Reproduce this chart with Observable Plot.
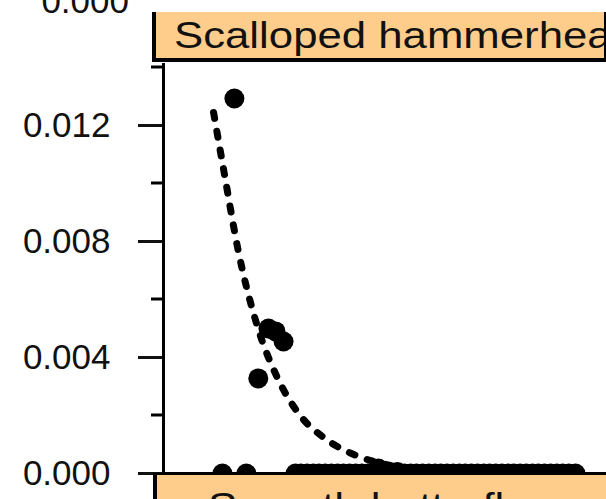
<!DOCTYPE html>
<html>
<head>
<meta charset="utf-8">
<script src="https://cdn.jsdelivr.net/npm/d3@7"></script>
<script src="https://cdn.jsdelivr.net/npm/@observablehq/plot@0.6"></script>
<style>
  html, body { margin: 0; padding: 0; background: #fff; overflow: hidden; }
  svg [aria-label="y-axis"] line,
  svg [aria-label="y-axis tick"] path { stroke-width: 3px; }
</style>
</head>
<body>
<div id="chart"></div>
<script>
// ---- data ----
const panelLabel = "Scalloped hammerhead";
const nextPanelLabel = "Smooth butterfly ray";
const abovePanelTickLabel = "0.000";

const majorTicks = [0, 0.004, 0.008, 0.012];
const yLabels = ["0.000", "0.004", "0.008", "0.012"];
const minorTicks = [0.002, 0.006, 0.010, 0.014];

// observed points (non-zero)
const obsX = [16.0, 21.4, 23.7, 25.3, 27.1, 48.5, 52.8];
const obsY = [0.01293, 0.00328, 0.0050, 0.0049, 0.00455, 0.00017, 0.00005];
// observed points at zero
const zeroX = [13.3, 18.7, 29.8, 31.0, 32.4, 33.8, 35.1, 36.5, 37.9, 39.3, 40.6, 42.0, 43.4,
  44.8, 46.1, 47.5, 48.9, 50.3, 51.6, 53.0, 54.4, 55.8, 57.1, 58.5, 59.9, 61.3, 62.6, 64.0,
  65.4, 66.8, 68.1, 69.5, 70.9, 72.3, 73.6, 75.0, 76.4, 77.8, 79.1, 80.5, 81.9, 83.3, 84.6,
  86.0, 87.4, 88.8, 90.1, 91.5, 93.0];

// fitted curve (dotted)
const fitX = [11.3, 13.8, 16.9, 21.0, 26.0, 30.5, 36.8, 44.0, 51.2, 60.3];
const fitY = [0.01245, 0.01028, 0.00766, 0.00517, 0.00321, 0.00207, 0.00117, 0.00059, 0.00028, 0.0001];

// ---- tables built from the arrays ----
const points = obsX.map((x, i) => ({x, y: obsY[i]})).concat(zeroX.map(x => ({x, y: 0})));
const fit = fitX.map((x, i) => ({x, y: fitY[i]}));

const stripFill = "#FECD8C";
const ink = "#111";
const font = "'Liberation Sans', Arial, Helvetica, sans-serif";

function minorTickMark(index, scales, values, dimensions) {
  const {marginLeft} = dimensions;
  const g = d3.create("svg:g").attr("stroke", "#000").attr("stroke-width", 3);
  for (const t of minorTicks) {
    const y = scales.y(t);
    g.append("line").attr("x1", marginLeft - 12).attr("x2", marginLeft).attr("y1", y).attr("y2", y);
  }
  return g.node();
}

function stripMark(index, scales, values, dimensions) {
  const {marginLeft, marginTop, marginBottom, width, height} = dimensions;
  const g = d3.create("svg:g").attr("text-anchor", "start");
  const uid = "clip" + Math.random().toString(36).slice(2);
  // top strip (this panel)
  const tx = marginLeft - 7, ty = marginTop - 51, tw = width - 2 - tx, th = 46;
  g.append("rect").attr("x", marginLeft - 11).attr("y", ty).attr("width", width - (marginLeft - 11)).attr("height", th + 4).attr("fill", "#000");
  g.append("rect").attr("x", tx).attr("y", ty).attr("width", tw).attr("height", th).attr("fill", stripFill);
  g.append("clipPath").attr("id", uid + "a").append("rect").attr("x", tx).attr("y", ty).attr("width", tw).attr("height", th);
  g.append("text").attr("clip-path", `url(#${uid}a)`)
    .attr("text-anchor", "start")
    .attr("x", marginLeft + 11).attr("y", ty + 36)
    .attr("font-family", font).attr("font-size", 36).attr("fill", ink)
    .attr("textLength", 462).attr("lengthAdjust", "spacingAndGlyphs")
    .text(panelLabel);
  // bottom strip (next panel)
  const by = height - marginBottom;
  g.append("rect").attr("x", marginLeft - 10).attr("y", by).attr("width", width).attr("height", 40).attr("fill", "#000");
  g.append("rect").attr("x", marginLeft - 6).attr("y", by + 2).attr("width", width).attr("height", 40).attr("fill", stripFill);
  g.append("text")
    .attr("text-anchor", "start")
    .attr("x", marginLeft + 45).attr("y", by + 46)
    .attr("font-family", font).attr("font-size", 36).attr("fill", ink)
    .attr("textLength", 391).attr("lengthAdjust", "spacingAndGlyphs")
    .text(nextPanelLabel);
  // tick label of the panel above (cut off)
  g.append("text").attr("x", marginLeft - 34).attr("y", marginTop - 50)
    .attr("text-anchor", "end").attr("font-family", font).attr("font-size", 35).attr("fill", ink)
    .text(abovePanelTickLabel);
  return g.node();
}

const chart = Plot.plot({
  width: 606,
  height: 499,
  marginLeft: 163,
  marginRight: 0,
  marginTop: 63,
  marginBottom: 26,
  style: {fontFamily: font, fontSize: "35px", color: ink, background: "#fff", overflow: "hidden"},
  x: {domain: [0, 100], axis: null},
  y: {
    domain: [0, 0.014138],
    ticks: majorTicks,
    tickFormat: d => yLabels[majorTicks.indexOf(d)] ?? d3.format(".3f")(d),
    tickSize: 25,
    tickPadding: 28,
    label: null
  },
  marks: [
    Plot.ruleX([0], {stroke: "#000", strokeWidth: 3}),
    Plot.ruleY([0], {stroke: "#000", strokeWidth: 3}),
    minorTickMark,
    Plot.line(fit, {x: "x", y: "y", stroke: "#000", strokeWidth: 7, strokeDasharray: "6,13", curve: "monotone-x"}),
    Plot.dot(points, {x: "x", y: "y", r: 10, fill: "#000"}),
    stripMark
  ]
});
document.getElementById("chart").appendChild(chart);
</script>
</body>
</html>
